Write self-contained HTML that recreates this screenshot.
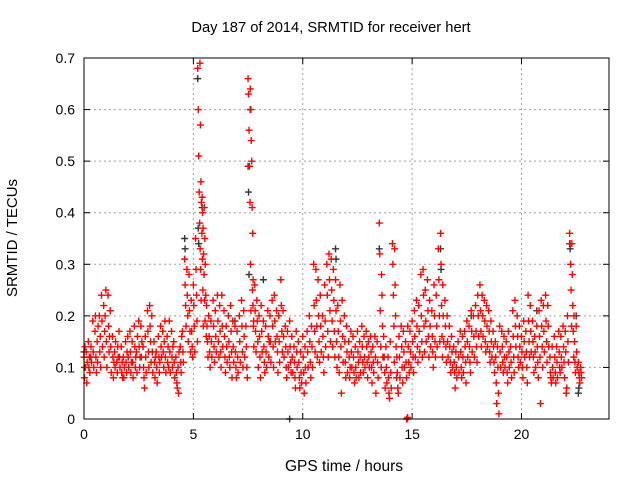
<!DOCTYPE html>
<html><head><meta charset="utf-8"><style>
html,body{margin:0;padding:0;background:#fff;}
svg{display:block;font-family:"Liberation Sans",sans-serif;}
</style></head><body>
<svg id="chart" width="640" height="480" viewBox="0 0 640 480">
<text x="331" y="32" text-anchor="middle" font-size="14.7">Day 187 of 2014, SRMTID for receiver hert</text>
<text x="344" y="471" text-anchor="middle" font-size="15.5">GPS time / hours</text>
<text transform="translate(17,238) rotate(-90)" text-anchor="middle" font-size="15">SRMTID / TECUs</text>
<g id="grid"></g>
<g id="ticks"></g>
<g id="black"></g>
<g id="red"></g>
<rect x="84" y="58" width="525" height="361" fill="none" stroke="#000" stroke-width="1"/>
</svg>
<script>
const xTicks=[0,5,10,15,20];
const yTicks=[0,0.1,0.2,0.3,0.4,0.5,0.6,0.7];
const yTickLabels=["0","0.1","0.2","0.3","0.4","0.5","0.6","0.7"];
const redSeries=[
[0.0,[.12,.08,.14,.10]],[0.1,[.13,.07,.11]],[0.2,[.15,.10,.12,.09]],[0.3,[.12,.14,.11]],[0.4,[.19,.13,.10]],
[0.5,[.17,.20,.12,.09]],[0.6,[.15,.11,.18]],[0.7,[.20,.13,.16,.10]],[0.8,[.24,.19,.14]],[0.9,[.22,.12,.17,.20]],
[1.0,[.25,.15,.10]],[1.1,[.24,.18,.13,.16]],[1.2,[.21,.14,.09]],[1.3,[.16,.12,.08,.11]],[1.4,[.13,.10,.15]],
[1.5,[.11,.09,.14,.12]],[1.6,[.17,.12,.10]],[1.7,[.14,.09,.11,.08]],[1.8,[.12,.08,.10]],[1.9,[.15,.11,.09,.13]],
[2.0,[.16,.12,.10]],[2.1,[.17,.13,.09,.11]],[2.2,[.15,.11,.08]],[2.3,[.18,.14,.10,.12]],[2.4,[.13,.09,.16]],
[2.5,[.19,.14,.10,.12]],[2.6,[.18,.12,.15]],[2.7,[.14,.10,.08,.06]],[2.8,[.16,.12,.09]],[2.9,[.21,.17,.13,.10]],
[3.0,[.22,.18,.15,.11]],[3.1,[.20,.13,.09]],[3.2,[.15,.11,.08,.12]],[3.3,[.13,.10,.07]],[3.4,[.16,.12,.09,.11]],
[3.5,[.18,.14,.12]],[3.6,[.17,.13,.10,.15]],[3.7,[.19,.12,.09]],[3.8,[.16,.11,.14,.10]],[3.9,[.19,.13,.09]],
[4.0,[.17,.12,.10,.14]],[4.1,[.15,.11,.08]],[4.2,[.12,.09,.07,.06]],[4.3,[.10,.05,.13]],[4.4,[.14,.11,.09,.16]],
[4.5,[.17,.13,.11]],[4.6,[.31,.26,.22,.18]],[4.7,[.29,.24,.20,.15]],[4.8,[.28,.21,.17,.13]],[4.9,[.23,.17,.14,.12]],
[5.0,[.26,.22,.18,.13]],[5.1,[.35,.29,.24,.19,.15]],[5.2,[.68,.60,.51,.44,.38,.33,.29,.23]],[5.3,[.69,.57,.46,.42,.36,.31,.25,.18]],
[5.4,[.43,.40,.37,.32,.28,.23,.19]],[5.5,[.41,.35,.30,.24,.16]],[5.6,[.22,.18,.15,.12]],[5.7,[.20,.16,.13,.10]],
[5.8,[.19,.15,.12]],[5.9,[.23,.18,.14,.11]],[6.0,[.21,.16,.13]],[6.1,[.24,.19,.15,.12]],[6.2,[.22,.17,.13,.10]],
[6.3,[.24,.18,.14]],[6.4,[.21,.16,.12,.09]],[6.5,[.18,.14,.11]],[6.6,[.20,.15,.12,.10]],[6.7,[.22,.17,.13,.08]],
[6.8,[.19,.14,.11]],[6.9,[.18,.13,.10,.08]],[7.0,[.17,.12,.09]],[7.1,[.20,.15,.11]],[7.2,[.23,.18,.13,.10]],
[7.3,[.21,.16,.12]],[7.4,[.18,.14,.10,.08]],[7.5,[.66,.63,.56,.49,.42,.30,.21]],[7.6,[.64,.60,.54,.50,.41,.36,.27,.19]],
[7.7,[.25,.22,.18,.14]],[7.8,[.26,.21,.17,.13]],[7.9,[.23,.19,.15,.10]],[8.0,[.20,.16,.12,.08]],[8.1,[.22,.17,.13]],
[8.2,[.19,.14,.11,.09]],[8.3,[.18,.13,.10]],[8.4,[.21,.16,.12,.15]],[8.5,[.20,.15,.11]],[8.6,[.23,.18,.14,.10]],
[8.7,[.24,.19,.15]],[8.8,[.21,.16,.13,.09]],[8.9,[.20,.15,.11]],[9.0,[.27,.22,.17,.13]],[9.1,[.21,.16,.12]],
[9.2,[.18,.14,.10,.08]],[9.3,[.17,.13,.10]],[9.4,[.19,.14,.11,.09]],[9.5,[.16,.12,.09]],[9.6,[.14,.11,.08,.06]],
[9.7,[.17,.13,.10]],[9.8,[.15,.11,.08,.06]],[9.9,[.13,.09,.07]],[10.0,[.16,.12,.09,.05]],[10.1,[.14,.10,.07]],
[10.2,[.17,.13,.10]],[10.3,[.20,.15,.11,.08]],[10.4,[.18,.14,.10]],[10.5,[.30,.22,.17,.13]],[10.6,[.29,.23,.18,.12]],
[10.7,[.27,.20,.15,.11]],[10.8,[.24,.18,.13]],[10.9,[.20,.16,.12,.09]],[11.0,[.26,.19,.14]],[11.1,[.30,.24,.17,.12]],
[11.2,[.32,.27,.21,.15]],[11.3,[.31,.25,.19,.14]],[11.4,[.29,.23,.17,.12]],[11.5,[.27,.21,.15,.10]],[11.6,[.22,.17,.12,.09]],
[11.7,[.26,.19,.14,.05]],[11.8,[.23,.16,.11]],[11.9,[.20,.15,.11,.08]],[12.0,[.18,.13,.09]],[12.1,[.15,.12,.08,.10]],
[12.2,[.17,.13,.10]],[12.3,[.16,.12,.09,.07]],[12.4,[.14,.10,.08]],[12.5,[.17,.13,.11,.08]],[12.6,[.15,.12,.09]],
[12.7,[.18,.14,.11,.09]],[12.8,[.16,.12,.10]],[12.9,[.17,.14,.11,.08]],[13.0,[.15,.12,.10]],[13.1,[.16,.13,.10,.07]],
[13.2,[.14,.11,.09]],[13.3,[.16,.12,.05]],[13.4,[.15,.11,.08]],[13.5,[.38,.32,.21,.14,.10]],[13.6,[.28,.24,.18,.12]],
[13.7,[.16,.12,.09,.06]],[13.8,[.14,.10,.07]],[13.9,[.12,.08,.05,.04]],[14.0,[.15,.09,.06]],[14.1,[.34,.30,.24,.18,.11]],
[14.2,[.33,.26,.20,.14,.08]],[14.3,[.12,.09,.06,.05]],[14.4,[.16,.12,.08]],[14.5,[.18,.14,.10,.07]],[14.6,[.17,.13,.10]],
[14.7,[.15,.11,.08]],[14.75,[0,0,0.003]],[14.8,[.18,.14,.11,.09]],[14.9,[.17,.13,.10]],[15.0,[.19,.15,.12,.09]],
[15.1,[.21,.16,.12]],[15.2,[.23,.18,.14,.11]],[15.3,[.22,.17,.13]],[15.4,[.28,.20,.15,.12]],[15.5,[.29,.24,.18,.13]],
[15.6,[.25,.19,.15]],[15.7,[.27,.21,.16,.12]],[15.8,[.23,.18,.14]],[15.9,[.21,.16,.13,.10]],[16.0,[.26,.20,.15,.12]],
[16.1,[.24,.18,.14]],[16.2,[.33,.27,.20,.15]],[16.3,[.36,.30,.22,.16,.12]],[16.4,[.26,.20,.15]],[16.5,[.23,.18,.14,.11]],
[16.6,[.20,.15,.12]],[16.7,[.18,.14,.11,.09]],[16.8,[.16,.13,.10]],[16.9,[.14,.11,.09,.06]],[17.0,[.13,.10,.08]],
[17.1,[.15,.12,.09]],[17.2,[.17,.13,.10,.08]],[17.3,[.16,.12,.09]],[17.4,[.17,.14,.11,.07]],[17.5,[.19,.15,.12]],
[17.6,[.18,.14,.11,.09]],[17.7,[.21,.17,.13]],[17.8,[.20,.16,.12]],[17.9,[.22,.17,.14,.11]],[18.0,[.24,.20,.16]],
[18.1,[.26,.21,.17,.14]],[18.2,[.24,.20,.16]],[18.3,[.23,.19,.15,.13]],[18.4,[.22,.18,.14]],[18.5,[.21,.17,.13,.11]],
[18.6,[.19,.15,.12]],[18.7,[.17,.14,.11,.09]],[18.8,[.15,.12,.07,.03]],[18.9,[.14,.10,.05,.01]],[19.0,[.18,.13,.10]],
[19.1,[.17,.14,.11,.09]],[19.2,[.16,.12,.10]],[19.3,[.15,.12,.09,.07]],[19.4,[.17,.13,.10]],[19.5,[.14,.11,.08]],
[19.6,[.21,.16,.12,.09]],[19.7,[.23,.18,.14]],[19.8,[.20,.16,.12,.10]],[19.9,[.18,.14,.11]],[20.0,[.16,.13,.10,.08]],
[20.1,[.19,.15,.12]],[20.2,[.17,.13,.10,.07]],[20.3,[.24,.19,.15,.12]],[20.4,[.22,.17,.13]],[20.5,[.19,.15,.12,.09]],
[20.6,[.16,.13,.10]],[20.7,[.18,.14,.11,.08]],[20.8,[.21,.16,.12,.03]],[20.9,[.23,.18,.14,.10]],[21.0,[.22,.17,.13]],
[21.1,[.24,.19,.15,.11]],[21.2,[.22,.18,.14]],[21.3,[.12,.09,.08,.07]],[21.4,[.14,.10,.08]],[21.5,[.16,.12,.09,.07]],
[21.6,[.14,.11,.08]],[21.7,[.17,.13,.10,.09]],[21.8,[.16,.12,.10]],[21.9,[.18,.14,.11,.08]],[22.0,[.17,.13,.05,.06]],
[22.1,[.20,.15,.11]],[22.2,[.36,.34,.30,.25,.18]],[22.3,[.34,.28,.22,.17,.12]],[22.4,[.20,.15,.11,.09]],[22.5,[.18,.13,.10]],
[22.6,[.11,.09,.08,.07]],[22.7,[.10,.09,.08]]
];
const blackSeries=[
[0.0,[.13,.10]],[1.2,[.21]],[4.6,[.35,.33]],[5.2,[.66,.37,.34]],[5.4,[.41]],[6.9,[.19]],[7.5,[.49,.44,.28]],[7.6,[.60]],
[8.2,[.27]],[9.4,[0]],[11.5,[.33,.31]],[13.5,[.33]],[16.3,[.33,.29]],[17.7,[.20]],[20.7,[.21]],[22.2,[.34,.33]],[22.5,[.20]],[22.6,[.05,.06]]
];
const X0=84,X1=609,Y0=419,Y1=58;
const xScale=t=>X0+(t/24)*(X1-X0);
const yScale=v=>Y0-(v/0.7)*(Y0-Y1);
const NS="http://www.w3.org/2000/svg";
const grid=document.getElementById('grid');
const ticks=document.getElementById('ticks');
function mk(tag,attrs,parent){const e=document.createElementNS(NS,tag);for(const k in attrs)e.setAttribute(k,attrs[k]);parent.appendChild(e);return e;}
yTicks.forEach((v,i)=>{
  const y=yScale(v);
  if(i>0&&i<yTicks.length-1){
    const g=mk('line',{x1:X0,x2:X1,y1:y,y2:y,stroke:'#a0a0a0','stroke-dasharray':'2,3'},grid);
    
    
  }
  const t1=mk('line',{x1:X0,x2:X0+6,y1:y,y2:y,stroke:'#000'},ticks);
  
  
  const t2=mk('line',{x1:X1-6,x2:X1,y1:y,y2:y,stroke:'#000'},ticks);
  
  
  const lb=mk('text',{x:X0-9,y:y+5,'text-anchor':'end','font-size':'14'},ticks);
  lb.textContent=yTickLabels[i];
  
  
});
xTicks.forEach(t=>{
  const x=xScale(t);
  if(t>0){
    const g=mk('line',{x1:x,x2:x,y1:Y1,y2:Y0,stroke:'#a0a0a0','stroke-dasharray':'2,3'},grid);
    
    
  }
  const t1=mk('line',{x1:x,x2:x,y1:Y0,y2:Y0-6,stroke:'#000'},ticks);
  
  
  const t2=mk('line',{x1:x,x2:x,y1:Y1,y2:Y1+6,stroke:'#000'},ticks);
  
  
  const lb=mk('text',{x:x,y:Y0+20,'text-anchor':'middle','font-size':'14'},ticks);
  lb.textContent=String(t);
  
  
});
function drawSeries(series,parentId,color,name){
  const p=document.getElementById(parentId);
  series.forEach(([t,vals])=>{
    vals.forEach((v,j)=>{
      const x=xScale(t+j*0.022),y=yScale(v);
      const m=mk('path',{d:`M${x-3.5} ${y}H${x+3.5}M${x} ${y-3.5}V${y+3.5}`,stroke:color,'stroke-width':'1.4',fill:'none'},p);
      
      
    });
  });
}
drawSeries(blackSeries,'black','#333','black-point');
drawSeries(redSeries,'red','#ff0000','red-point');
</script>
</body></html>
